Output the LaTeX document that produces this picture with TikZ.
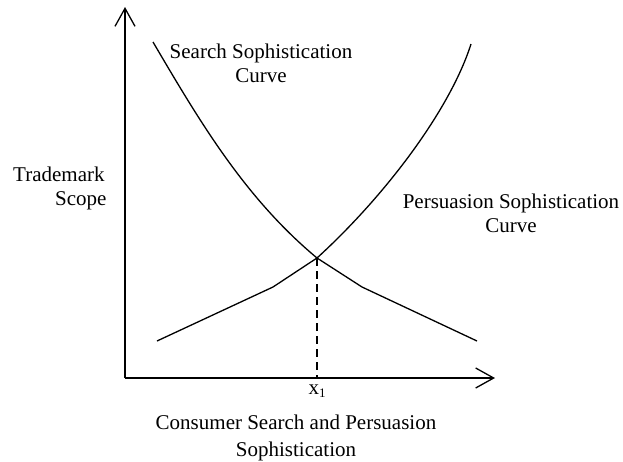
\documentclass[tikz,border=0pt]{standalone}
\usepackage{fontspec}
\setmainfont{Liberation Serif}
\usetikzlibrary{arrows.meta}
\begin{document}
\begin{tikzpicture}[x=1pt,y=-1pt,
  axis/.style={line width=1.3pt,-{Straight Barb[length=18pt,width=20pt,line width=1.3pt]}},
  curve/.style={line width=1.3pt,line join=round},
  guide/.style={line width=1.3pt,dash pattern=on 8pt off 5pt},
  lbl/.style={font=\fontsize{21}{24}\selectfont,inner sep=0pt,align=center}]
\useasboundingbox (0,0) rectangle (623,461);
% axes
\coordinate (O) at (125,378);
\coordinate (ytop) at (125,7);
\coordinate (xend) at (495,378);
\draw[axis] (O) -- (ytop);
\draw[axis] (O) -- (xend);
% key points
\coordinate (X) at (317,258);
\coordinate (xfoot) at (317,378);
\coordinate (s0) at (153,42);
\coordinate (sk) at (362,287);
\coordinate (s1) at (477,341);
\coordinate (p0) at (157,341);
\coordinate (pk) at (273,287);
\coordinate (p1) at (471,44);
% search sophistication curve
\draw[curve] (s0) .. controls (200,122) and (245,198) .. (X) -- (sk) -- (s1);
% persuasion sophistication curve
\draw[curve] (p0) -- (pk) -- (X) .. controls (385,196) and (450,110) .. (p1);
% dashed guide
\draw[guide] (X) -- (xfoot);
% labels
\node[lbl] (ss) at (261,63) {Search Sophistication\\Curve};
\node[lbl] (ps) at (511,213) {Persuasion Sophistication\\Curve};
\node[lbl,align=left,anchor=west] (ts) at (13,188) {Trademark\\\hspace*{42pt}Scope};
\node[lbl] (xl) at (317,391) {x\raisebox{-0.35ex}{\fontsize{13}{14}\selectfont 1}};
\node[lbl,font=\fontsize{21}{27}\selectfont] (cs) at (296,438) {Consumer Search and Persuasion\\Sophistication};
\end{tikzpicture}
\end{document}
